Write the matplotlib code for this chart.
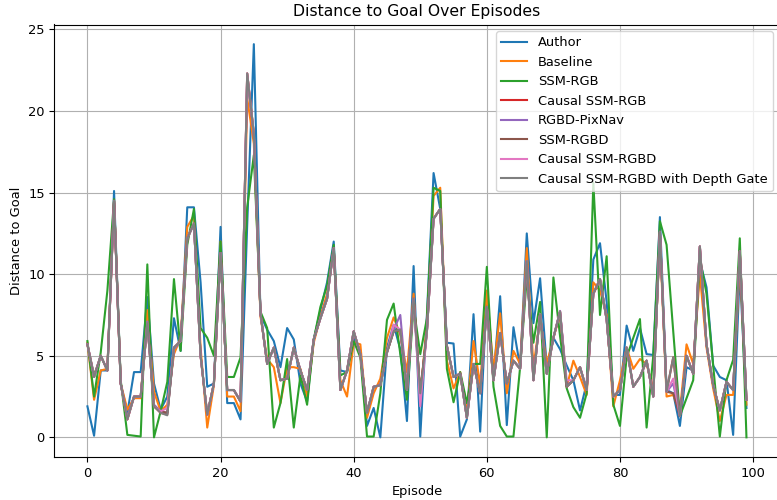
import matplotlib
matplotlib.use("Agg")
import matplotlib.pyplot as plt

# Distance to goal per episode
episodes = list(range(100))

author = [1.9, 0.1, 4.1, 4.1, 15.1, 3.3, 1.5, 4.0, 4.0, 8.6,
          3.3, 1.7, 2.5, 7.3, 5.3, 14.1, 14.1, 9.5, 3.1, 3.3,
          12.9, 2.1, 2.1, 1.1, 13.0, 24.1, 7.5, 6.6, 5.9, 4.3,
          6.7, 6.0, 3.3, 2.2, 6.0, 7.8, 9.5, 12.0, 4.1, 4.0,
          6.1, 5.3, 0.7, 1.8, 0.0, 5.5, 6.9, 5.4, 1.0, 10.5,
          0.05, 7.5, 16.2, 14.0, 5.8, 5.75, 0.05, 1.1, 7.55, 0.35,
          8.8, 3.7, 8.65, 0.75, 6.75, 4.3, 12.5, 7.0, 9.75, 4.35,
          6.1, 5.4, 4.4, 3.5, 1.65, 3.3, 10.9, 11.9, 8.3, 2.6,
          2.6, 6.85, 5.3, 6.7, 5.1, 5.05, 13.5, 2.9, 2.7, 0.7,
          4.3, 4.1, 10.8, 9.2, 4.4, 3.7, 3.5, 0.15, 10.2, 1.8]

baseline = [5.8, 2.3, 4.1, 4.2, 14.5, 3.3, 1.7, 2.4, 2.4, 7.8,
            2.8, 1.6, 2.0, 5.1, 6.1, 12.9, 13.6, 5.5, 0.6, 3.2,
            12.0, 2.5, 2.5, 1.6, 20.8, 18.0, 7.4, 4.8, 4.3, 2.1,
            4.3, 4.3, 4.2, 2.5, 5.8, 7.4, 8.8, 11.5, 3.5, 2.5,
            5.8, 5.7, 1.2, 2.7, 3.6, 6.1, 7.35, 6.3, 4.0, 8.8,
            2.5, 7.0, 14.8, 15.3, 4.7, 3.0, 4.0, 1.5, 5.9, 3.2,
            9.0, 4.1, 7.6, 2.7, 5.3, 4.5, 11.6, 4.3, 7.35, 4.5,
            6.1, 7.5, 3.1, 4.7, 3.7, 2.6, 9.5, 9.0, 7.5, 1.9,
            3.5, 5.5, 4.2, 4.8, 4.5, 2.9, 12.2, 2.5, 2.6, 1.6,
            5.7, 4.5, 10.0, 5.5, 3.0, 1.0, 2.6, 2.6, 10.8, 2.0]

ssm_rgb = [5.9, 2.5, 5.2, 9.0, 14.6, 3.5, 0.15, 0.1, 0.05, 10.6,
           0.0, 1.6, 3.4, 9.7, 5.3, 11.8, 14.0, 6.7, 6.1, 5.0,
           12.0, 3.7, 3.7, 4.9, 14.1, 17.3, 7.7, 6.7, 0.6, 2.1,
           4.8, 0.6, 3.8, 2.0, 6.0, 8.0, 9.3, 11.8, 3.8, 4.0,
           5.9, 4.9, 0.05, 0.05, 2.7, 7.2, 8.2, 5.1, 2.3, 8.0,
           5.1, 7.3, 15.3, 15.1, 4.2, 2.15, 4.0, 2.1, 4.5, 4.5,
           10.45, 3.1, 0.7, 0.05, 0.05, 4.3, 9.8, 5.8, 8.3, 0.0,
           9.8, 6.2, 3.0, 1.85, 1.2, 2.7, 15.6, 7.5, 11.1, 2.0,
           0.7, 4.9, 6.1, 7.25, 0.6, 5.0, 13.25, 11.8, 6.5, 1.3,
           2.4, 3.5, 11.0, 8.8, 4.4, 0.05, 3.5, 4.75, 12.2, 0.0]

causal_ssm_rgb = [5.7, 3.7, 5.0, 4.1, 14.5, 3.3, 1.1, 2.5, 2.5, 7.0,
                  1.9, 1.5, 1.4, 5.5, 5.9, 12.2, 13.1, 5.0, 1.4, 3.3,
                  11.3, 2.9, 2.9, 2.2, 22.3, 18.6, 7.6, 4.5, 5.5, 3.5,
                  3.6, 5.5, 4.1, 2.9, 6.0, 7.3, 8.5, 11.6, 2.9, 4.1,
                  6.5, 5.1, 1.5, 3.1, 3.2, 5.2, 6.5, 6.6, 2.9, 8.5,
                  2.7, 6.5, 13.4, 14.0, 5.6, 3.7, 3.9, 1.2, 4.5, 2.7,
                  8.0, 3.5, 6.4, 3.3, 4.7, 4.2, 10.8, 3.5, 7.55, 3.9,
                  6.1, 7.7, 3.1, 3.5, 4.3, 2.9, 8.8, 9.7, 7.2, 2.5,
                  2.9, 5.5, 3.1, 3.7, 4.7, 2.5, 12.6, 2.8, 4.9, 1.3,
                  5.0, 3.9, 11.7, 5.7, 3.2, 1.65, 3.4, 2.9, 11.4, 2.3]

rgbd_pixnav = [5.7, 3.7, 5.0, 4.1, 14.4, 3.3, 1.2, 2.5, 2.5, 7.1,
               2.0, 1.6, 1.5, 5.4, 5.9, 12.2, 13.1, 5.0, 1.4, 3.3,
               11.3, 2.9, 2.9, 2.2, 22.1, 18.5, 7.6, 4.5, 5.5, 3.5,
               3.6, 5.5, 4.1, 2.9, 6.0, 7.3, 8.5, 11.6, 2.9, 4.1,
               6.5, 5.1, 1.5, 3.1, 3.2, 5.2, 6.6, 7.5, 2.9, 8.4,
               2.3, 6.5, 13.4, 14.0, 5.6, 3.7, 3.9, 1.2, 4.5, 2.7,
               8.0, 3.5, 6.4, 3.3, 4.7, 4.2, 10.8, 3.5, 7.55, 3.9,
               6.1, 7.75, 3.2, 3.5, 4.3, 2.9, 8.8, 9.7, 7.2, 2.5,
               2.9, 5.5, 3.1, 3.7, 4.7, 2.5, 12.6, 2.8, 3.3, 1.3,
               5.0, 3.9, 11.7, 5.7, 3.2, 1.65, 3.4, 2.9, 11.4, 2.3]

ssm_rgbd = [5.7, 3.8, 5.0, 4.1, 14.5, 3.3, 1.1, 2.5, 2.5, 7.0,
            1.9, 1.6, 1.5, 5.5, 5.9, 12.2, 13.1, 5.0, 1.4, 3.3,
            11.3, 2.9, 2.9, 2.2, 22.3, 18.6, 7.6, 4.5, 5.5, 3.5,
            3.6, 5.5, 4.1, 2.9, 6.0, 7.3, 8.5, 11.6, 2.9, 4.1,
            6.5, 5.1, 1.5, 3.1, 3.2, 5.2, 6.5, 6.6, 2.9, 8.5,
            2.7, 6.5, 13.4, 14.0, 5.6, 3.7, 3.9, 1.2, 4.5, 2.7,
            8.0, 3.5, 6.4, 3.3, 4.7, 4.2, 10.8, 3.5, 7.55, 3.9,
            6.1, 7.7, 3.1, 3.5, 4.3, 2.9, 8.8, 9.7, 7.2, 2.5,
            2.9, 5.5, 3.1, 3.7, 4.7, 2.5, 12.6, 2.8, 2.7, 1.3,
            5.0, 3.9, 11.7, 5.7, 3.2, 1.65, 3.4, 2.9, 11.4, 2.3]

causal_ssm_rgbd = [5.7, 3.7, 5.0, 4.1, 14.5, 3.3, 1.1, 2.5, 2.5, 7.0,
                   1.9, 1.6, 1.8, 5.5, 5.9, 12.2, 13.1, 5.0, 1.4, 3.3,
                   11.3, 2.9, 2.9, 2.2, 22.3, 18.6, 7.6, 4.5, 5.5, 3.5,
                   3.6, 5.5, 4.1, 2.9, 6.0, 7.3, 8.5, 11.6, 2.9, 4.1,
                   6.5, 5.1, 1.5, 3.1, 3.2, 5.2, 6.9, 6.6, 2.9, 8.5,
                   1.9, 6.5, 13.4, 14.0, 5.6, 3.7, 3.9, 1.2, 4.5, 2.7,
                   8.0, 3.5, 6.4, 3.3, 4.7, 4.2, 10.8, 3.5, 7.55, 3.9,
                   6.1, 7.7, 3.5, 3.5, 4.3, 2.9, 8.8, 9.7, 7.2, 2.5,
                   2.9, 5.5, 3.1, 3.7, 4.7, 2.5, 12.6, 2.8, 3.6, 1.3,
                   5.0, 3.9, 11.7, 5.7, 3.2, 1.65, 3.4, 2.9, 11.4, 2.3]

depth_gate = [5.7, 3.7, 5.0, 4.1, 14.5, 3.3, 1.1, 2.5, 2.5, 7.0,
              1.9, 1.5, 1.35, 5.5, 5.9, 12.2, 13.1, 5.0, 1.4, 3.3,
              11.3, 2.9, 2.9, 2.2, 22.3, 18.6, 7.6, 4.5, 5.5, 3.5,
              3.6, 5.5, 4.1, 2.9, 6.0, 7.3, 8.5, 11.6, 2.9, 4.1,
              6.5, 5.1, 1.5, 3.1, 3.2, 5.2, 6.5, 6.6, 2.9, 8.5,
              2.7, 6.5, 13.4, 14.0, 5.6, 3.7, 3.9, 1.2, 4.5, 2.7,
              8.0, 3.5, 6.4, 3.3, 4.7, 4.2, 10.8, 3.5, 7.55, 3.9,
              6.1, 7.7, 3.1, 3.5, 4.3, 2.9, 8.8, 9.7, 7.2, 2.5,
              2.9, 5.5, 3.1, 3.7, 4.7, 2.5, 12.6, 2.8, 4.9, 1.3,
              5.0, 3.9, 11.7, 5.7, 3.2, 1.65, 3.4, 2.9, 11.4, 2.3]

labels = ["Author", "Baseline", "SSM-RGB", "Causal SSM-RGB", "RGBD-PixNav",
          "SSM-RGBD", "Causal SSM-RGBD", "Causal SSM-RGBD with Depth Gate"]
series = [author, baseline, ssm_rgb, causal_ssm_rgb, rgbd_pixnav,
          ssm_rgbd, causal_ssm_rgbd, depth_gate]

plt.rcParams["font.size"] = 9.4

fig = plt.figure(figsize=(7.77, 5.0), dpi=100)
ax = fig.add_axes([0.0701, 0.086, 0.933, 0.865])

for values, label in zip(series, labels):
    ax.plot(episodes, values, label=label, linewidth=1.5)

ax.set_title("Distance to Goal Over Episodes")
ax.set_xlabel("Episode")
ax.set_ylabel("Distance to Goal")
ax.grid(True)
ax.legend(loc="upper right")

fig.savefig("out.png", dpi=100)
